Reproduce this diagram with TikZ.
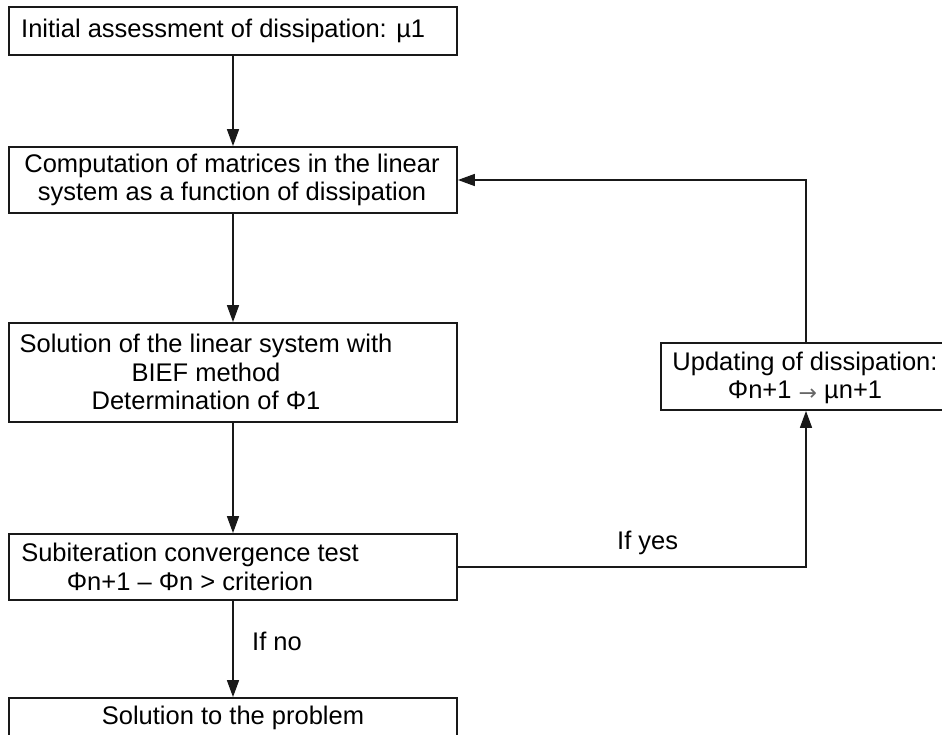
\documentclass[tikz,border=0pt]{standalone}
\usepackage{fontspec}
\setmainfont{Liberation Sans}
\newfontfamily\arrowfont{DejaVu Sans}
\usetikzlibrary{arrows.meta}
\begin{document}
\begin{tikzpicture}[x=1pt,y=-1pt,
  box/.style={draw=black!90, line width=1.8pt, rectangle, inner sep=0pt},
  txt/.style={inner sep=0pt, align=center, font=\fontsize{25.5}{28.5}\selectfont},
  conn/.style={line width=1.6pt, draw=black!90, -{Triangle[length=17pt,width=12pt]}},
  plain/.style={line width=1.6pt, draw=black!90}]
\useasboundingbox (0,0) rectangle (942,735);
% boxes
\node[box, minimum width=448pt, minimum height=48pt] (b1) at (233,31) {};
\node[box, minimum width=448pt, minimum height=66pt] (b2) at (233,180) {};
\node[box, minimum width=448pt, minimum height=99pt] (b3) at (233,372.5) {};
\node[box, minimum width=448pt, minimum height=66pt] (b4) at (233,567) {};
\node[box, minimum width=290pt, minimum height=67pt] (b5) at (806,376.5) {};
\node[box, minimum width=448pt, minimum height=62pt] (b6) at (233,729) {};
% texts
\node[txt, anchor=west] (t1) at (21,31) {Initial assessment of dissipation: µ1};
\node[txt] (t2) at (232,180) {Computation of matrices in the linear\\system as a function of dissipation};
\node[txt] (t3) at (206,372) {Solution of the linear system with\\BIEF method\\Determination of Φ1};
\node[txt] (t4) at (190,567) {Subiteration convergence test\\Φn+1 – Φn > criterion};
\node[txt] (t5) at (805,378) {Updating of dissipation:\\Φn+1 {\arrowfont\fontsize{22}{22}\selectfont\color{black!60}\raisebox{-2pt}{→}} µn+1};
\node[txt] (t6) at (233,718) {Solution to the problem};
\node[txt, anchor=west] (ln) at (252,641) {If no};
\node[txt, anchor=west] (ly) at (617,543) {If yes};
% connectors
\draw[conn] (b1.south) -- (b2.north);
\draw[conn] (b2.south) -- (b3.north);
\draw[conn] (b3.south) -- (b4.north);
\draw[conn] (b4.south) -- (b6.north);
\draw[conn] (b4.east) -| (b5.south);
\draw[conn] (b5.north) |- (b2.east);
\end{tikzpicture}
\end{document}
